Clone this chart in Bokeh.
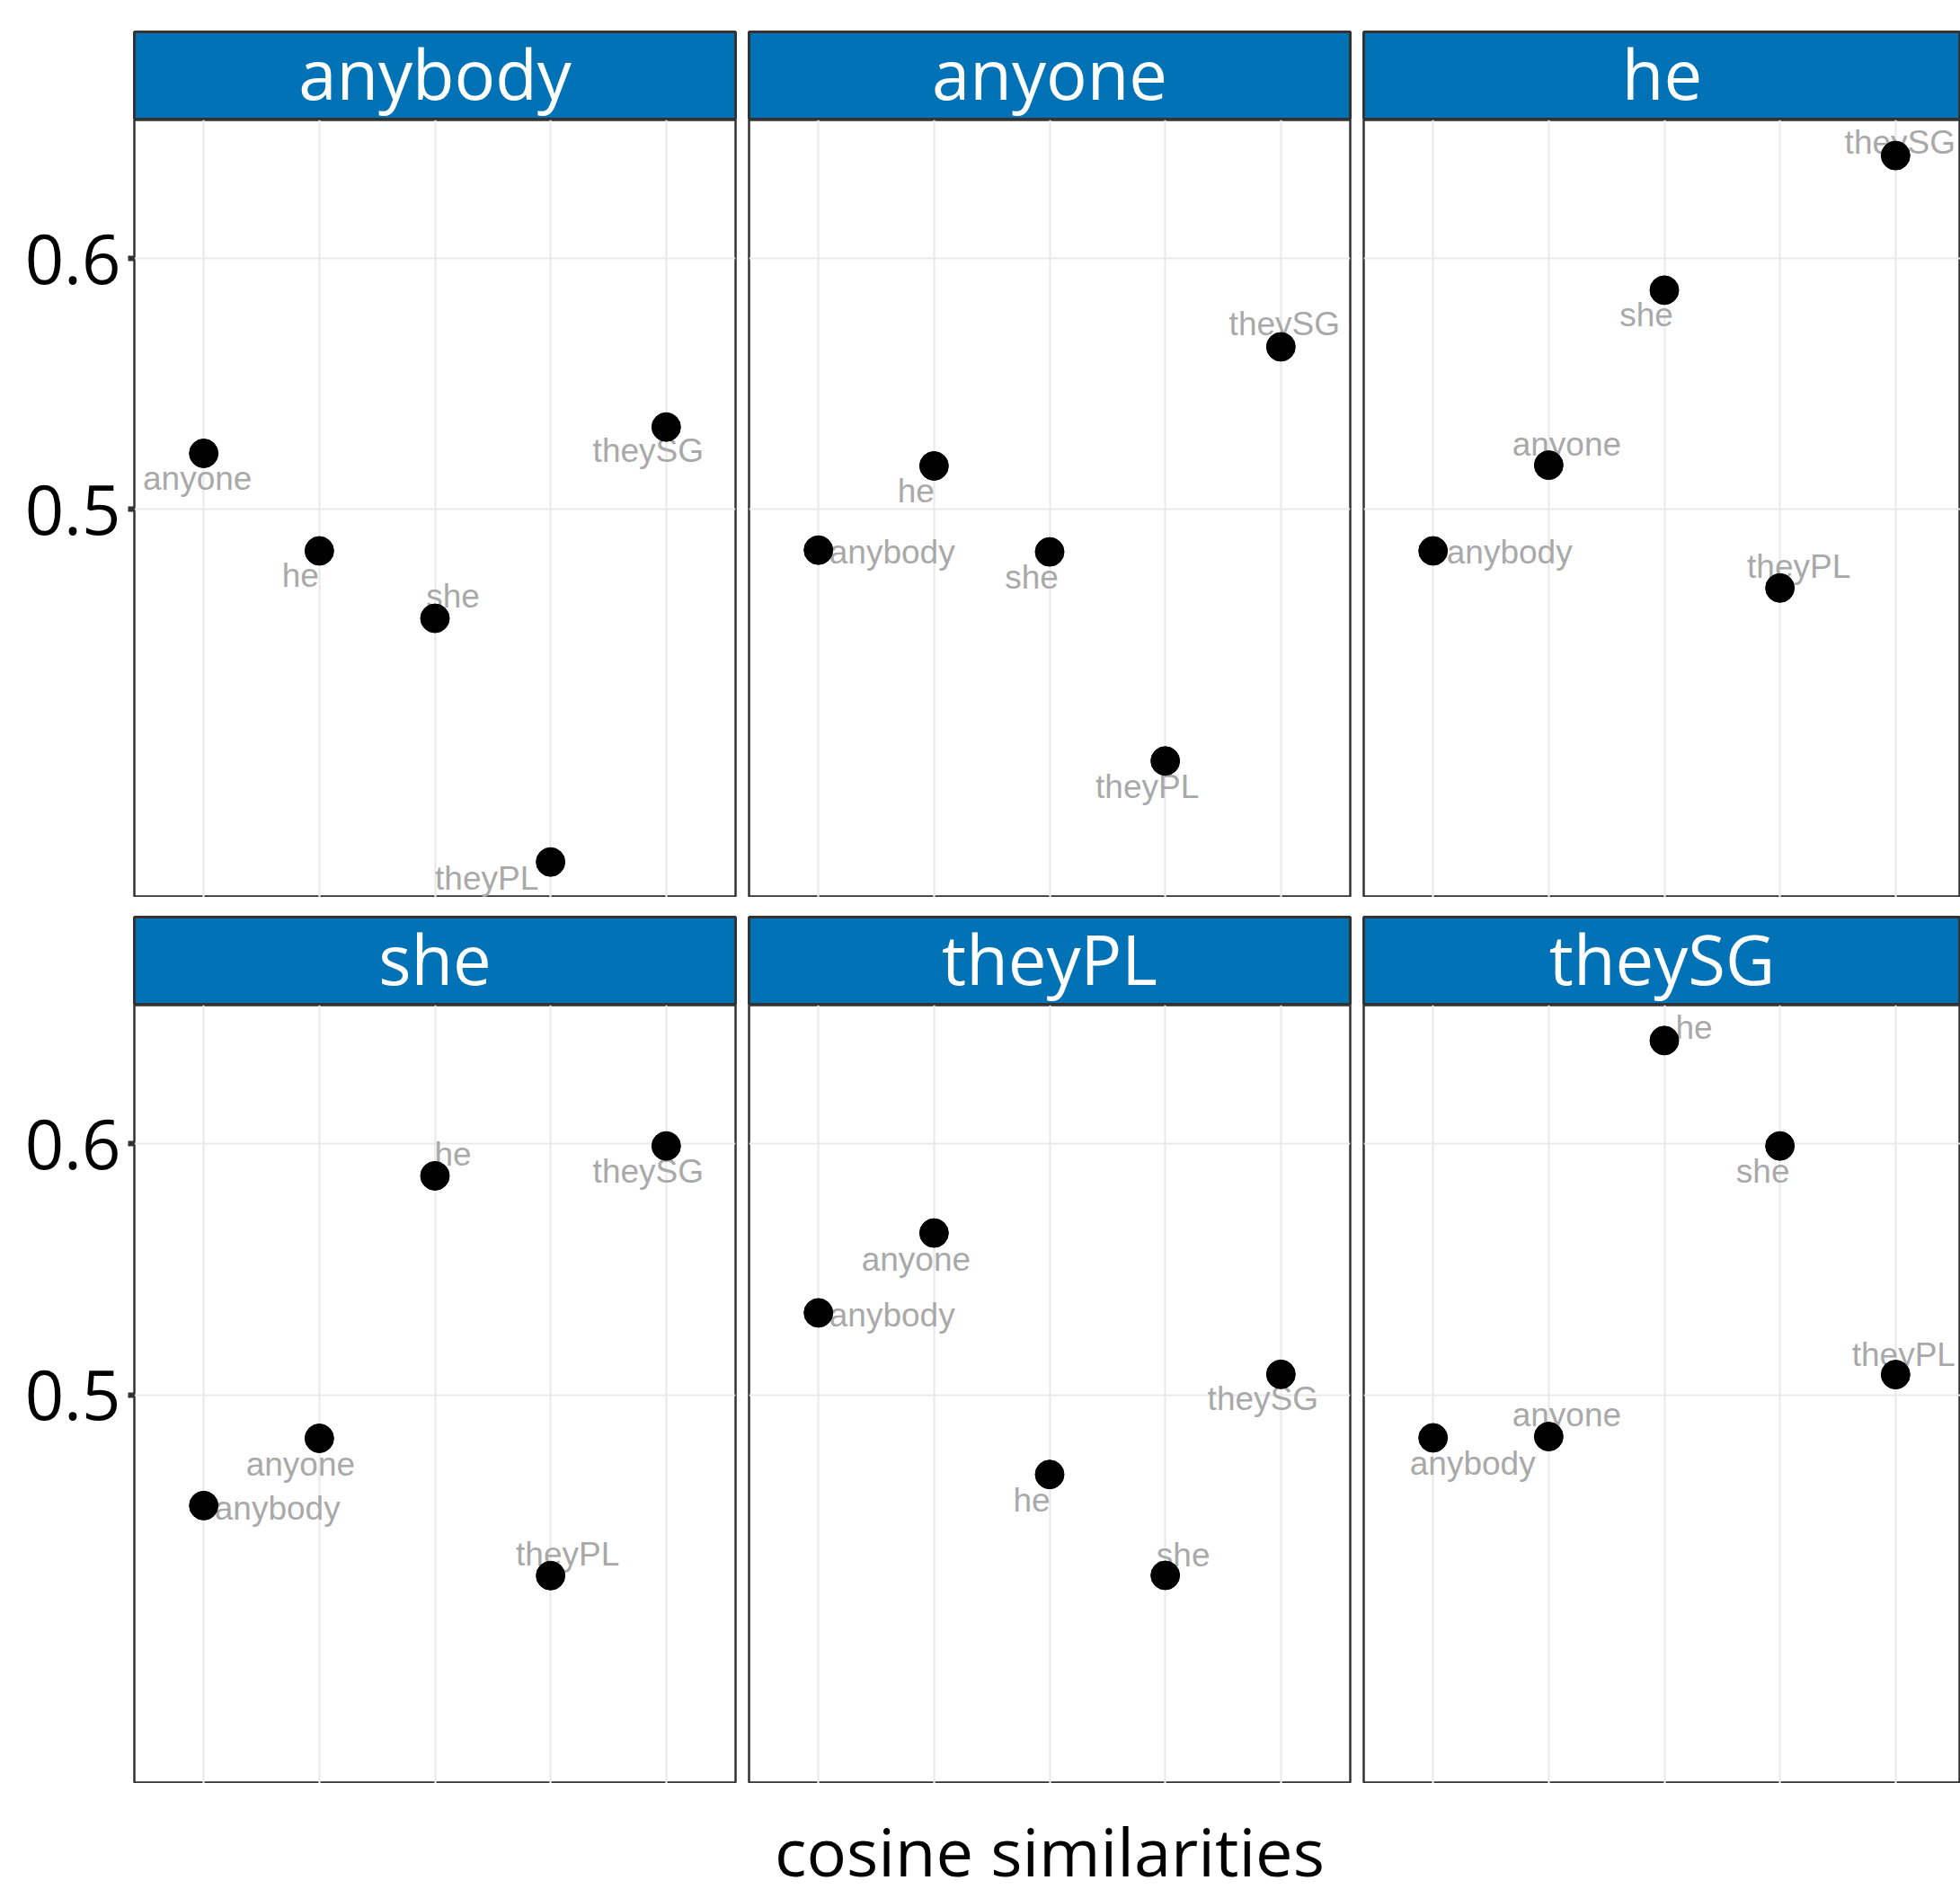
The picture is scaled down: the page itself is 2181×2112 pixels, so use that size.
from bokeh.plotting import figure
from bokeh.layouts import column, row
from bokeh.models import ColumnDataSource, FixedTicker, Range1d, Label
from bokeh.core.properties import value
from bokeh.embed import file_html
from bokeh.resources import INLINE

# ---------------- data ----------------
words = ["anybody", "anyone", "he", "she", "theyPL", "theySG"]

# cosine similarity of each facet word with the other five words (in word order)
sim_anybody = [0.5223, 0.4834, 0.4565, 0.3593, 0.5328]   # anyone, he, she, theyPL, theySG
sim_anyone = [0.4837, 0.5173, 0.4830, 0.3996, 0.5648]    # anybody, he, she, theyPL, theySG
sim_he = [0.4834, 0.5176, 0.5874, 0.4686, 0.6411]        # anybody, anyone, she, theyPL, theySG
sim_she = [0.4559, 0.4827, 0.5873, 0.4280, 0.5992]       # anybody, anyone, he, theyPL, theySG
sim_theyPL = [0.5327, 0.5645, 0.4683, 0.4281, 0.5082]    # anybody, anyone, he, she, theySG
sim_theySG = [0.4829, 0.4834, 0.6412, 0.5992, 0.5081]    # anybody, anyone, he, she, theyPL

y_ticks = [0.5, 0.6]
y_tick_labels = ["0.5", "0.6"]
x_title = "cosine similarities"

sims = {"anybody": sim_anybody, "anyone": sim_anyone, "he": sim_he,
        "she": sim_she, "theyPL": sim_theyPL, "theySG": sim_theySG}

# ---------------- label nudges (screen px: text centre / baseline relative to point) ----------------
lab_dx = {
    "anybody": [-7, -21, 20, -71, -20],
    "anyone": [82, -20, -20, -20, 4],
    "he": [85, 20, -20, 21, 5],
    "she": [82, -21, 20, 19, -20],
    "theyPL": [82, -20, -20, 20, -20],
    "theySG": [44, 20, 33, -19, 9],
}
lab_dy = {
    "anybody": [39.5, 38.5, -12.8, 30, 37.6],
    "anyone": [13.5, 39.4, 39.4, 40, -13.9],
    "he": [12.5, -12.1, 39.5, -12.8, -3.2],
    "she": [14.2, 40.4, -12.8, -12.1, 39.7],
    "theyPL": [13.9, 40.5, 40.5, -11.1, 38.8],
    "theySG": [39.7, -12.1, -2.8, 39.7, -10.6],
}

# ---------------- style ----------------
BLUE = "#0172B6"
BORDER = "#333333"
GRID = "#EAEAEA"
LABEL_GRAY = "#A9A9A9"
BIG_FONT = "Open Sans"
BIG_PX = 76
BIG_SIZE = f"{BIG_PX}px"
TITLE_PX = 74
LAB_PX = 37
BIG_FIX = 0.37   # renderer puts the alphabetic baseline this many em below the anchor
LAB_FIX = 0.31

cols = [dict(left=149, frame=669, right=8),
        dict(left=7, frame=669, right=8),
        dict(left=7, frame=664, right=0)]
STRIP_H = 98
STRIP_BASE = 23.5   # baseline height above strip bottom (px)
TITLE_BASE = 26     # baseline height above page bottom (px)

all_vals = [v for s in sims.values() for v in s]
lo, hi = min(all_vals), max(all_vals)
pad = 0.05 * (hi - lo)
Y0, Y1 = lo - pad, hi + pad


def make_strip(name, c, top):
    p = figure(width=c["left"] + c["frame"] + c["right"], height=top + STRIP_H,
               x_range=Range1d(0, 1), y_range=Range1d(0, STRIP_H),
               min_border=0, min_border_left=c["left"], min_border_right=c["right"],
               min_border_top=top, min_border_bottom=0,
               toolbar_location=None, output_backend="svg", title=None,
               x_axis_location=None, y_axis_location=None)
    p.grid.visible = False
    p.background_fill_color = BLUE
    p.border_fill_color = "white"
    p.outline_line_color = BORDER
    p.outline_line_width = 3
    p.add_layout(Label(x=0.5, y=STRIP_BASE + BIG_FIX * BIG_PX, text=name, text_align="center",
                       text_baseline="alphabetic", text_color="white",
                       text_font=BIG_FONT, text_font_size=BIG_SIZE))
    return p


def make_panel(name, ci, frame_h, bottom):
    c = cols[ci]
    others = [w for w in words if w != name]
    src = ColumnDataSource(dict(
        x=list(range(1, len(others) + 1)),
        y=sims[name],
        word=others,
        dx=lab_dx[name],
        dy=[d - LAB_FIX * LAB_PX for d in lab_dy[name]],
    ))
    x_hi = 0.4 + 5.2 * c["frame"] / 669.0
    p = figure(width=c["left"] + c["frame"] + c["right"], height=frame_h + bottom,
               x_range=Range1d(0.4, x_hi), y_range=Range1d(Y0, Y1),
               min_border=0, min_border_left=c["left"], min_border_right=c["right"],
               min_border_top=0, min_border_bottom=bottom,
               toolbar_location=None, output_backend="svg", title=None,
               x_axis_location=None,
               y_axis_location="left" if ci == 0 else None)
    p.background_fill_color = "white"
    p.border_fill_color = "white"
    p.outline_line_color = BORDER
    p.outline_line_width = 2.5
    p.xgrid.ticker = FixedTicker(ticks=list(range(1, len(others) + 1)))
    p.ygrid.ticker = FixedTicker(ticks=y_ticks)
    p.grid.grid_line_color = GRID
    p.grid.grid_line_width = 2.2
    if ci == 0:
        ax = p.yaxis[0]
        ax.ticker = FixedTicker(ticks=y_ticks)
        ax.major_label_overrides = dict(zip(y_ticks, y_tick_labels))
        ax.axis_line_color = None
        ax.major_tick_out = 7
        ax.major_tick_in = 0
        ax.major_tick_line_width = 6
        ax.major_tick_line_color = BORDER
        ax.minor_tick_line_color = None
        ax.major_label_standoff = 8
        ax.major_label_text_font = BIG_FONT
        ax.major_label_text_font_size = BIG_SIZE
        ax.major_label_text_color = "black"
    p.text(x="x", y="y", text="word", x_offset="dx", y_offset="dy", source=src,
           text_align="center", text_baseline="alphabetic",
           text_font=value("Liberation Sans"), text_font_size=f"{LAB_PX}px",
           text_color=LABEL_GRAY)
    p.scatter(x="x", y="y", source=src, size=32, fill_color="black",
              line_color="black")
    return p


row1_names = words[:3]
row2_names = words[3:]

strips1 = [make_strip(n, cols[i], 35) for i, n in enumerate(row1_names)]
panels1 = [make_panel(n, i, 865, 0) for i, n in enumerate(row1_names)]
strips2 = [make_strip(n, cols[i], 22) for i, n in enumerate(row2_names)]
panels2 = [make_panel(n, i, 866, 0) for i, n in enumerate(row2_names)]

total_w = sum(c["left"] + c["frame"] + c["right"] for c in cols)
TITLE_H = 128
tf = figure(width=total_w, height=TITLE_H, x_range=Range1d(0, total_w), y_range=Range1d(0, TITLE_H),
            min_border=0, toolbar_location=None, output_backend="svg", title=None,
            x_axis_location=None, y_axis_location=None)
tf.grid.visible = False
tf.outline_line_color = None
tf.background_fill_color = "white"
tf.border_fill_color = "white"
tf.add_layout(Label(x=1167.5, y=TITLE_BASE + BIG_FIX * TITLE_PX, text=x_title, text_align="center",
                    text_baseline="alphabetic", text_color="black",
                    text_font=BIG_FONT, text_font_size=f"{TITLE_PX}px"))

layout = column(row(*strips1), row(*panels1), row(*strips2), row(*panels2), tf)

open("out.html", "w").write(file_html(layout, INLINE))
